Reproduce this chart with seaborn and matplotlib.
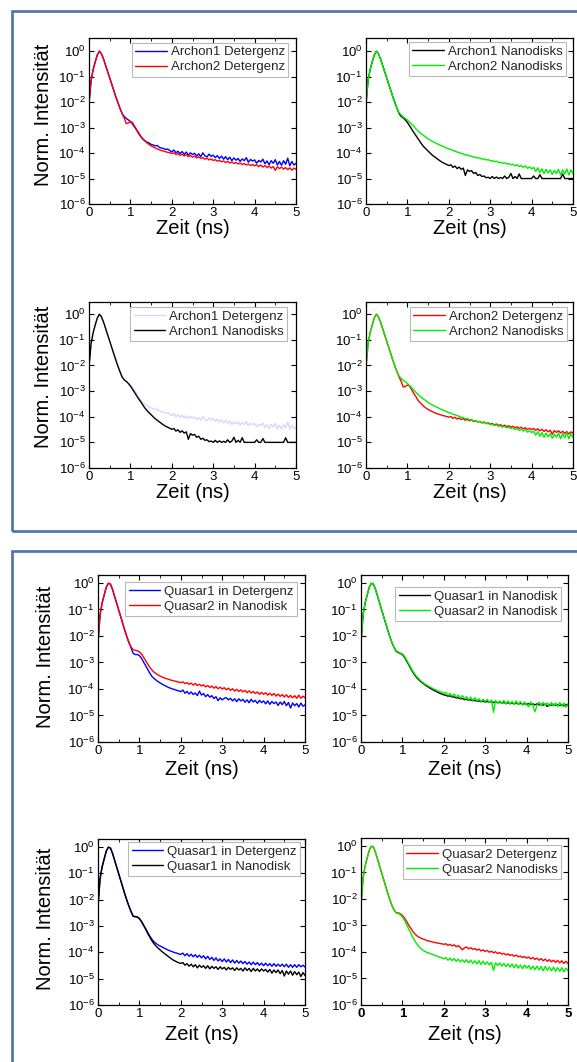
import numpy as np
import matplotlib
matplotlib.use("Agg")
import matplotlib.pyplot as plt
from matplotlib.ticker import MultipleLocator, LogLocator, NullLocator
from matplotlib.patches import Rectangle
import seaborn as sns

# ---------------------------------------------------------------------------
# Time-resolved fluorescence decays, stored as log10(normalised intensity),
# sampled every 0.05 ns from 0 to 5 ns (10 values per row, last row = 5.00 ns)
# ---------------------------------------------------------------------------
TIME_STEP_NS = 0.05

archon1_det = [
    -2.05, -1.15, -0.72, -0.42, -0.15, 0.00, -0.10, -0.30, -0.55, -0.80,
    -1.05, -1.30, -1.55, -1.80, -2.03, -2.25, -2.45, -2.56, -2.64, -2.70,
    -2.76, -2.86, -2.98, -3.10, -3.24, -3.36, -3.45, -3.52, -3.57, -3.60,
    -3.66, -3.68, -3.72, -3.70, -3.78, -3.80, -3.82, -3.86, -3.84, -3.90,
    -3.95, -3.88, -3.99, -3.93, -4.02, -3.94, -4.05, -3.96, -4.08, -3.99,
    -4.06, -4.01, -4.12, -4.03, -4.14, -3.99, -4.11, -4.15, -4.04, -4.13,
    -4.08, -4.18, -4.10, -4.21, -4.12, -4.24, -4.14, -4.26, -4.16, -4.30,
    -4.19, -4.28, -4.21, -4.33, -4.23, -4.30, -4.18, -4.36, -4.25, -4.31,
    -4.27, -4.40, -4.29, -4.35, -4.24, -4.42, -4.31, -4.46, -4.30, -4.40,
    -4.26, -4.47, -4.33, -4.48, -4.30, -4.44, -4.20, -4.50, -4.33, -4.47,
    -4.40,
]

archon2_det = [
    -2.05, -1.15, -0.72, -0.42, -0.15, 0.00, -0.10, -0.30, -0.55, -0.80,
    -1.05, -1.30, -1.55, -1.80, -2.03, -2.25, -2.45, -2.62, -2.84, -2.82,
    -2.76, -2.80, -2.94, -3.08, -3.20, -3.34, -3.44, -3.52, -3.60, -3.66,
    -3.72, -3.76, -3.80, -3.84, -3.87, -3.90, -3.92, -3.95, -3.97, -3.99,
    -4.02, -3.99, -4.06, -4.02, -4.09, -4.05, -4.11, -4.07, -4.14, -4.10,
    -4.16, -4.12, -4.19, -4.15, -4.21, -4.18, -4.24, -4.20, -4.27, -4.23,
    -4.29, -4.26, -4.32, -4.28, -4.34, -4.31, -4.37, -4.33, -4.39, -4.35,
    -4.41, -4.37, -4.43, -4.39, -4.45, -4.41, -4.47, -4.43, -4.49, -4.45,
    -4.50, -4.46, -4.53, -4.47, -4.55, -4.49, -4.57, -4.51, -4.59, -4.53,
    -4.68, -4.54, -4.61, -4.55, -4.63, -4.57, -4.65, -4.58, -4.67, -4.59,
    -4.64,
]

archon1_nano = [
    -2.05, -1.15, -0.72, -0.42, -0.15, 0.00, -0.10, -0.30, -0.55, -0.80,
    -1.05, -1.30, -1.55, -1.80, -2.03, -2.25, -2.45, -2.56, -2.62, -2.70,
    -2.80, -2.92, -3.05, -3.18, -3.30, -3.42, -3.54, -3.66, -3.76, -3.84,
    -3.92, -4.00, -4.08, -4.14, -4.20, -4.26, -4.32, -4.37, -4.41, -4.45,
    -4.49, -4.46, -4.56, -4.51, -4.61, -4.55, -4.64, -4.59, -4.88, -4.66,
    -4.72, -4.69, -4.80, -4.76, -4.88, -4.84, -4.92, -4.90, -4.97, -4.95,
    -5.00, -4.92, -5.00, -4.94, -5.00, -4.96, -5.00, -4.90, -5.00, -4.95,
    -4.80, -5.00, -4.92, -5.00, -4.82, -5.00, -5.00, -5.00, -5.00, -5.00,
    -5.00, -4.90, -5.00, -5.00, -4.85, -5.00, -5.00, -5.00, -5.00, -5.00,
    -5.00, -5.00, -5.00, -5.00, -5.00, -4.82, -5.00, -5.00, -5.00, -5.00,
    -5.00,
]

archon2_nano = [
    -2.05, -1.15, -0.72, -0.42, -0.15, 0.00, -0.10, -0.30, -0.55, -0.80,
    -1.05, -1.30, -1.55, -1.80, -2.03, -2.25, -2.42, -2.50, -2.58, -2.64,
    -2.70, -2.78, -2.86, -2.95, -3.04, -3.12, -3.20, -3.26, -3.32, -3.38,
    -3.44, -3.49, -3.54, -3.58, -3.62, -3.66, -3.70, -3.73, -3.77, -3.80,
    -3.84, -3.86, -3.90, -3.92, -3.96, -3.98, -4.02, -4.03, -4.08, -4.07,
    -4.12, -4.12, -4.16, -4.16, -4.20, -4.19, -4.24, -4.23, -4.27, -4.26,
    -4.30, -4.30, -4.34, -4.32, -4.37, -4.36, -4.40, -4.38, -4.43, -4.41,
    -4.46, -4.44, -4.50, -4.46, -4.53, -4.49, -4.56, -4.50, -4.60, -4.54,
    -4.62, -4.56, -4.72, -4.58, -4.76, -4.62, -4.80, -4.64, -4.78, -4.66,
    -4.84, -4.68, -4.80, -4.64, -4.86, -4.66, -4.82, -4.62, -4.86, -4.66,
    -4.80,
]

# Quasar series, first comparison (detergent vs. nanodisk)
quasar1_det_a = [
    -2.25, -1.20, -0.75, -0.45, -0.16, -0.01, -0.04, -0.24, -0.50, -0.76,
    -1.02, -1.28, -1.54, -1.80, -2.04, -2.26, -2.46, -2.66, -2.70, -2.70,
    -2.74, -2.84, -2.98, -3.12, -3.26, -3.40, -3.52, -3.60, -3.66, -3.72,
    -3.77, -3.82, -3.86, -3.90, -3.94, -3.97, -4.00, -4.02, -4.05, -4.07,
    -4.10, -4.04, -4.16, -4.09, -4.19, -4.11, -4.21, -4.15, -4.25, -4.08,
    -4.23, -4.17, -4.29, -4.21, -4.31, -4.25, -4.36, -4.29, -4.44, -4.33,
    -4.41, -4.35, -4.33, -4.41, -4.35, -4.45, -4.37, -4.48, -4.37, -4.45,
    -4.39, -4.50, -4.41, -4.52, -4.39, -4.49, -4.43, -4.54, -4.43, -4.51,
    -4.45, -4.56, -4.45, -4.58, -4.47, -4.55, -4.49, -4.62, -4.49, -4.59,
    -4.47, -4.63, -4.51, -4.72, -4.53, -4.63, -4.55, -4.68, -4.53, -4.65,
    -4.60,
]

quasar2_nano_a = [
    -2.25, -1.20, -0.75, -0.45, -0.16, -0.01, -0.04, -0.24, -0.50, -0.76,
    -1.02, -1.28, -1.54, -1.80, -2.04, -2.26, -2.42, -2.52, -2.54, -2.56,
    -2.60, -2.68, -2.80, -2.93, -3.06, -3.18, -3.28, -3.36, -3.42, -3.47,
    -3.51, -3.55, -3.58, -3.61, -3.63, -3.66, -3.68, -3.70, -3.72, -3.74,
    -3.76, -3.73, -3.80, -3.76, -3.82, -3.78, -3.85, -3.79, -3.87, -3.82,
    -3.89, -3.84, -3.92, -3.87, -3.94, -3.89, -3.97, -3.91, -3.99, -3.93,
    -4.00, -3.95, -4.03, -3.97, -4.05, -3.99, -4.08, -4.01, -4.09, -4.03,
    -4.11, -4.05, -4.14, -4.07, -4.15, -4.09, -4.17, -4.11, -4.20, -4.13,
    -4.20, -4.14, -4.23, -4.16, -4.24, -4.17, -4.27, -4.19, -4.28, -4.21,
    -4.30, -4.22, -4.32, -4.24, -4.33, -4.25, -4.35, -4.23, -4.35, -4.27,
    -4.33,
]

# Quasar series, both in nanodisks
quasar1_nano_b = [
    -2.25, -1.20, -0.75, -0.45, -0.16, -0.01, -0.04, -0.24, -0.50, -0.76,
    -1.02, -1.28, -1.54, -1.80, -2.04, -2.26, -2.44, -2.58, -2.62, -2.66,
    -2.70, -2.80, -2.94, -3.08, -3.22, -3.36, -3.48, -3.58, -3.66, -3.73,
    -3.79, -3.85, -3.90, -3.95, -4.00, -4.04, -4.08, -4.12, -4.16, -4.19,
    -4.22, -4.24, -4.27, -4.26, -4.30, -4.30, -4.34, -4.33, -4.37, -4.36,
    -4.40, -4.39, -4.42, -4.41, -4.44, -4.43, -4.46, -4.45, -4.48, -4.46,
    -4.49, -4.47, -4.50, -4.48, -4.51, -4.49, -4.52, -4.50, -4.53, -4.51,
    -4.54, -4.52, -4.55, -4.53, -4.56, -4.53, -4.57, -4.54, -4.58, -4.55,
    -4.58, -4.55, -4.59, -4.56, -4.60, -4.56, -4.60, -4.57, -4.61, -4.57,
    -4.66, -4.58, -4.62, -4.58, -4.62, -4.58, -4.63, -4.59, -4.64, -4.58,
    -4.62,
]

quasar2_nano_b = [
    -2.25, -1.20, -0.75, -0.45, -0.16, -0.01, -0.04, -0.24, -0.50, -0.76,
    -1.02, -1.28, -1.54, -1.80, -2.04, -2.26, -2.44, -2.56, -2.60, -2.64,
    -2.68, -2.76, -2.90, -3.04, -3.18, -3.32, -3.44, -3.54, -3.62, -3.70,
    -3.76, -3.82, -3.86, -3.91, -3.95, -3.99, -4.03, -4.06, -4.10, -4.12,
    -4.16, -4.13, -4.23, -4.17, -4.27, -4.19, -4.31, -4.23, -4.35, -4.25,
    -4.37, -4.29, -4.41, -4.31, -4.43, -4.33, -4.45, -4.37, -4.47, -4.39,
    -4.47, -4.39, -4.51, -4.41, -4.88, -4.43, -4.53, -4.45, -4.55, -4.43,
    -4.57, -4.45, -4.57, -4.47, -4.59, -4.45, -4.59, -4.47, -4.61, -4.49,
    -4.59, -4.67, -4.49, -4.61, -4.86, -4.63, -4.49, -4.63, -4.51, -4.61,
    -4.53, -4.65, -4.51, -4.63, -4.53, -4.67, -4.51, -4.65, -4.53, -4.69,
    -4.56,
]

# Quasar1 in detergent vs. nanodisk
quasar1_det_c = [
    -2.25, -1.20, -0.75, -0.45, -0.16, -0.01, -0.04, -0.24, -0.50, -0.76,
    -1.02, -1.28, -1.54, -1.80, -2.04, -2.26, -2.46, -2.64, -2.65, -2.66,
    -2.72, -2.82, -2.96, -3.10, -3.24, -3.38, -3.50, -3.60, -3.66, -3.72,
    -3.76, -3.80, -3.84, -3.88, -3.92, -3.95, -3.98, -4.01, -4.03, -4.06,
    -4.08, -4.03, -4.13, -4.05, -4.15, -4.07, -4.17, -4.09, -4.19, -4.11,
    -4.21, -4.13, -4.25, -4.15, -4.27, -4.19, -4.31, -4.21, -4.33, -4.25,
    -4.35, -4.25, -4.37, -4.27, -4.39, -4.29, -4.41, -4.31, -4.41, -4.33,
    -4.43, -4.35, -4.45, -4.37, -4.47, -4.37, -4.47, -4.39, -4.49, -4.41,
    -4.51, -4.41, -4.51, -4.43, -4.53, -4.43, -4.53, -4.45, -4.53, -4.45,
    -4.55, -4.45, -4.57, -4.47, -4.57, -4.47, -4.57, -4.47, -4.55, -4.49,
    -4.56,
]

quasar1_nano_c = [
    -2.25, -1.20, -0.75, -0.45, -0.16, -0.01, -0.04, -0.24, -0.50, -0.76,
    -1.02, -1.28, -1.54, -1.80, -2.04, -2.26, -2.46, -2.63, -2.64, -2.66,
    -2.72, -2.84, -2.98, -3.12, -3.28, -3.42, -3.56, -3.67, -3.76, -3.84,
    -3.91, -3.98, -4.04, -4.10, -4.16, -4.22, -4.28, -4.32, -4.36, -4.40,
    -4.42, -4.39, -4.49, -4.43, -4.53, -4.45, -4.55, -4.47, -4.59, -4.49,
    -4.57, -4.51, -4.61, -4.51, -4.63, -4.53, -4.61, -4.55, -4.65, -4.55,
    -4.63, -4.57, -4.67, -4.57, -4.65, -4.59, -4.69, -4.59, -4.67, -4.61,
    -4.71, -4.59, -4.69, -4.61, -4.73, -4.61, -4.71, -4.63, -4.73, -4.63,
    -4.71, -4.65, -4.75, -4.65, -4.79, -4.67, -4.77, -4.67, -4.81, -4.69,
    -4.90, -4.71, -4.83, -4.71, -4.87, -4.73, -4.85, -4.75, -4.92, -4.77,
    -4.88,
]

# Quasar2 in detergent vs. nanodisks
quasar2_det_d = [
    -2.25, -1.20, -0.75, -0.45, -0.16, -0.01, -0.04, -0.24, -0.50, -0.76,
    -1.02, -1.28, -1.54, -1.80, -2.04, -2.26, -2.42, -2.52, -2.52, -2.56,
    -2.62, -2.72, -2.84, -2.98, -3.10, -3.22, -3.32, -3.39, -3.44, -3.48,
    -3.51, -3.54, -3.57, -3.59, -3.61, -3.63, -3.65, -3.66, -3.68, -3.69,
    -3.71, -3.69, -3.75, -3.71, -3.77, -3.73, -3.80, -3.76, -3.83, -3.92,
    -3.84, -3.81, -3.88, -3.84, -3.90, -3.87, -3.93, -3.89, -3.96, -3.92,
    -3.98, -3.94, -4.01, -3.97, -4.03, -3.99, -4.06, -4.02, -4.08, -4.05,
    -4.11, -4.07, -4.13, -4.10, -4.16, -4.12, -4.18, -4.15, -4.21, -4.17,
    -4.23, -4.19, -4.26, -4.21, -4.28, -4.23, -4.31, -4.25, -4.33, -4.27,
    -4.35, -4.29, -4.37, -4.31, -4.39, -4.32, -4.41, -4.33, -4.43, -4.35,
    -4.44,
]

quasar2_nano_d = [
    -2.25, -1.20, -0.75, -0.45, -0.16, -0.01, -0.04, -0.24, -0.50, -0.76,
    -1.02, -1.28, -1.54, -1.80, -2.04, -2.26, -2.42, -2.52, -2.54, -2.60,
    -2.68, -2.80, -2.96, -3.12, -3.28, -3.44, -3.58, -3.70, -3.80, -3.88,
    -3.94, -3.98, -4.02, -4.04, -4.08, -4.10, -4.14, -4.16, -4.20, -4.22,
    -4.26, -4.21, -4.31, -4.23, -4.33, -4.25, -4.35, -4.27, -4.37, -4.29,
    -4.39, -4.29, -4.41, -4.31, -4.43, -4.33, -4.45, -4.33, -4.47, -4.35,
    -4.47, -4.37, -4.49, -4.39, -4.70, -4.41, -4.51, -4.41, -4.53, -4.43,
    -4.55, -4.45, -4.57, -4.45, -4.59, -4.47, -4.61, -4.49, -4.63, -4.49,
    -4.61, -4.51, -4.65, -4.53, -4.67, -4.53, -4.67, -4.55, -4.71, -4.55,
    -4.69, -4.57, -4.71, -4.57, -4.73, -4.59, -4.73, -4.59, -4.75, -4.61,
    -4.70,
]

X_LABEL = "Zeit (ns)"
Y_LABEL = "Norm. Intensität"
X_TICKS = [0, 1, 2, 3, 4, 5]

# ---------------------------------------------------------------------------
sns.set_theme(style="ticks")
plt.rcParams["font.family"] = ["Liberation Sans", "DejaVu Sans"]
plt.rcParams["mathtext.fontset"] = "custom"
plt.rcParams["mathtext.rm"] = "Liberation Sans"
plt.rcParams["mathtext.default"] = "regular"
plt.rcParams["axes.unicode_minus"] = False

W, H = 577, 1062
fig = plt.figure(figsize=(W / 100, H / 100), dpi=100)
fig.patch.set_facecolor("white")


def px_rect(left, top, right, bottom):
    return [left / W, 1 - bottom / H, (right - left) / W, (bottom - top) / H]


BLUE, RED, GREEN, BLACK = "#0000ff", "#ff0000", "#00ee00", "#000000"

panels = [
    dict(rect=(89, 38, 296, 204), top=3.3, leg=(0.962, 0.972), ylab=(-0.172, 0.54), xlab=-0.088,
         curves=[(archon1_det, "Archon1 Detergenz", BLUE, 1.0),
                 (archon2_det, "Archon2 Detergenz", RED, 1.0)]),
    dict(rect=(366, 38, 573, 204), top=3.3, leg=(0.966, 0.976), ylab=None, xlab=-0.088,
         curves=[(archon1_nano, "Archon1 Nanodisks", BLACK, 1.0),
                 (archon2_nano, "Archon2 Nanodisks", GREEN, 1.0)]),
    dict(rect=(89, 302, 296, 468), top=3.0, leg=(0.958, 0.970), ylab=(-0.172, 0.55), xlab=-0.090,
         curves=[(archon1_det, "Archon1 Detergenz", BLUE, 0.16),
                 (archon1_nano, "Archon1 Nanodisks", BLACK, 1.0)]),
    dict(rect=(366, 302, 573, 468), top=3.0, leg=(0.971, 0.970), ylab=None, xlab=-0.090,
         curves=[(archon2_det, "Archon2 Detergenz", RED, 1.0),
                 (archon2_nano, "Archon2 Nanodisks", GREEN, 1.0)]),
    dict(rect=(98, 575, 305, 742), top=2.0, leg=(0.962, 0.958), ylab=(-0.207, 0.51), xlab=-0.110,
         curves=[(quasar1_det_a, "Quasar1 in Detergenz", BLUE, 1.0),
                 (quasar2_nano_a, "Quasar2 in Nanodisk", RED, 1.0)]),
    dict(rect=(361, 575, 568, 742), top=2.0, leg=(0.966, 0.928), ylab=None, xlab=-0.110,
         curves=[(quasar1_nano_b, "Quasar1 in Nanodisk", BLACK, 1.0),
                 (quasar2_nano_b, "Quasar2 in Nanodisk", GREEN, 1.0)]),
    dict(rect=(98, 839, 305, 1005), top=2.0, leg=(0.976, 0.980), ylab=(-0.207, 0.52), xlab=-0.118,
         curves=[(quasar1_det_c, "Quasar1 in Detergenz", BLUE, 1.0),
                 (quasar1_nano_c, "Quasar1 in Nanodisk", BLACK, 1.0)]),
    dict(rect=(361, 838, 568, 1005), top=2.0, leg=(0.966, 0.958), ylab=None, xlab=-0.118, bold=True,
         curves=[(quasar2_det_d, "Quasar2 Detergenz", RED, 1.0),
                 (quasar2_nano_d, "Quasar2 Nanodisks", GREEN, 1.0)]),
]

for p in panels:
    ax = fig.add_axes(px_rect(*p["rect"]))
    ax.set_facecolor("white")
    ax.set_yscale("log")
    for values, label, color, alpha in p["curves"]:
        assert len(values) == 101, label
        time = np.arange(len(values)) * TIME_STEP_NS
        sns.lineplot(x=time, y=10.0 ** np.asarray(values), ax=ax, color=color,
                     alpha=alpha, linewidth=1.0, label=label,
                     estimator=None, sort=False)

    ax.set_xlim(0, 5)
    ax.set_ylim(1e-6, p["top"])
    ax.set_xticks(X_TICKS)
    ax.xaxis.set_minor_locator(MultipleLocator(0.5))
    ax.yaxis.set_major_locator(LogLocator(base=10, numticks=12))
    ax.yaxis.set_minor_locator(NullLocator())
    ax.tick_params(which="both", direction="in", top=True, right=True,
                   labelsize=9.5, pad=2.5, color="black", labelcolor="black")
    ax.tick_params(which="major", length=3.5, width=0.8)
    ax.tick_params(which="minor", length=2, width=0.6)
    for s in ax.spines.values():
        s.set_color("black")
        s.set_linewidth(0.9)
    if p.get("bold"):
        for lbl in ax.get_xticklabels():
            lbl.set_fontweight("bold")

    ax.set_xlabel(X_LABEL, fontsize=14.5, color="black")
    ax.xaxis.set_label_coords(0.5, p["xlab"])
    if p["ylab"] is not None:
        ax.set_ylabel(Y_LABEL, fontsize=14.5, color="black")
        ax.yaxis.set_label_coords(*p["ylab"])
    else:
        ax.set_ylabel("")

    ax.legend(loc="upper right", bbox_to_anchor=p["leg"], borderaxespad=0,
              fontsize=9.5, frameon=True, fancybox=False, framealpha=1,
              edgecolor="#b8b8b8", handlelength=2.4, handletextpad=0.3,
              borderpad=0.25, labelspacing=0.22)
    ax.get_legend().get_frame().set_linewidth(0.8)

# Blue frames grouping the Archon and Quasar blocks
for (l, t, r, b) in [(12, 11, 590, 531), (12, 551, 590, 1080)]:
    fig.add_artist(Rectangle((l / W, 1 - b / H), (r - l) / W, (b - t) / H,
                             transform=fig.transFigure, fill=False,
                             edgecolor="#4f6fab", linewidth=1.9, clip_on=False))

fig.savefig("out.png", dpi=100, facecolor="white")
